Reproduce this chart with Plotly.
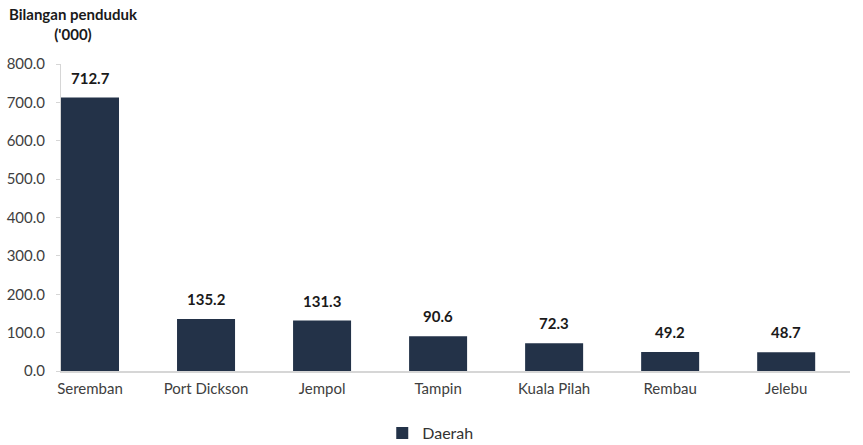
import plotly.graph_objects as go

districts = ["Seremban", "Port Dickson", "Jempol", "Tampin", "Kuala Pilah", "Rembau", "Jelebu"]
population = [712.7, 135.2, 131.3, 90.6, 72.3, 49.2, 48.7]
y_ticks = [0, 100, 200, 300, 400, 500, 600, 700, 800]
series_name = "Daerah"
y_title = "Bilangan penduduk<br>('000)"

positions = list(range(len(districts)))
BAR = "#233248"
FONT = "Lato, 'Open Sans', sans-serif"
AXIS = "#d6d6d6"

fig = go.Figure()
fig.add_trace(go.Bar(
    x=positions, y=population, name=series_name, width=0.5,
    marker=dict(color=BAR, line=dict(width=0)), showlegend=True,
))

for xp, v in zip(positions, population):
    fig.add_annotation(x=xp, y=v, text=f"<b>{v:.1f}</b>", showarrow=False,
                       yanchor="bottom", yshift=9,
                       font=dict(family=FONT, size=15, color="#1a1a1a"))

fig.add_annotation(xref="paper", yref="paper", x=0.016, y=1.0, yshift=19,
                   text=f"<b>{y_title}</b>", showarrow=False, xanchor="center",
                   yanchor="bottom", align="center",
                   font=dict(family=FONT, size=15, color="#1a1a1a"))

fig.update_layout(
    width=863, height=445,
    margin=dict(l=61, r=13, t=64, b=74, autoexpand=False),
    plot_bgcolor="white", paper_bgcolor="white",
    font=dict(family=FONT, size=15, color="#404040"),
    xaxis=dict(range=[-0.25, 6.55], tickvals=positions, ticktext=districts,
               showgrid=False, zeroline=False, showline=True, linecolor=AXIS,
               linewidth=1.5, ticks="outside", ticklen=3, tickcolor="rgba(0,0,0,0)",
               automargin=False, tickfont=dict(size=15, color="#404040")),
    yaxis=dict(range=[0, 800], tickvals=y_ticks, tickformat=".1f",
               showgrid=False, zeroline=False, showline=True, linecolor=AXIS,
               linewidth=1, ticks="outside", ticklen=4, tickcolor=AXIS,
               ticklabelstandoff=8, automargin=False,
               tickfont=dict(size=15, color="#404040")),
    legend=dict(orientation="h", x=0.468, xanchor="center", yref="container",
                y=0.027, yanchor="middle", itemwidth=30,
                font=dict(size=16, color="#333333")),
)

fig.write_html("out.html", config={"displayModeBar": False},
               post_script="document.body.style.margin='0px';")
